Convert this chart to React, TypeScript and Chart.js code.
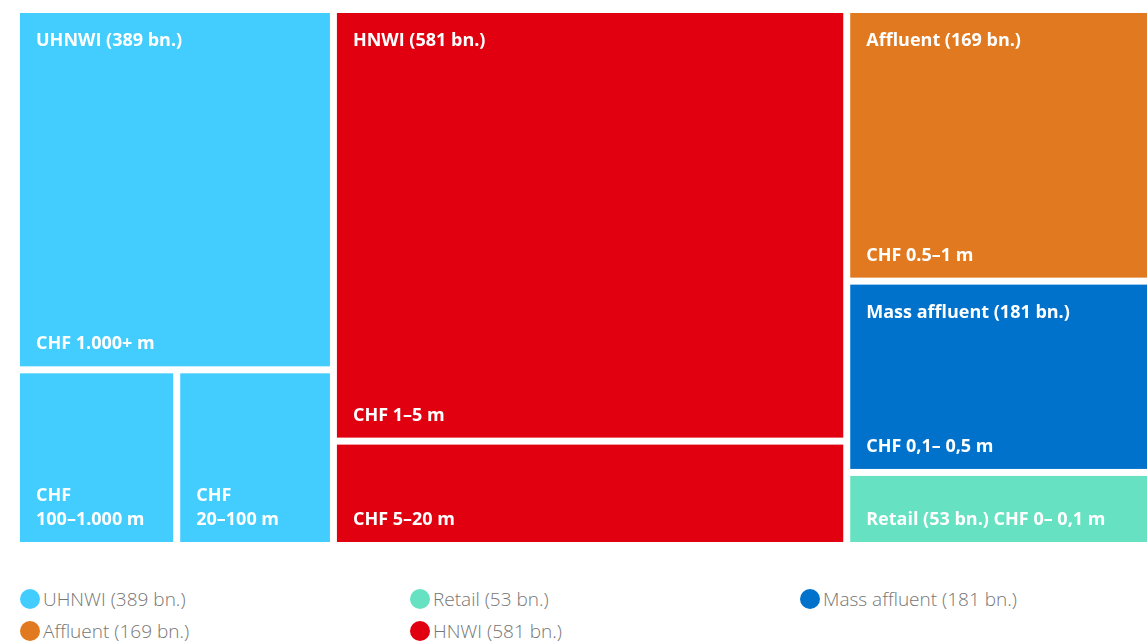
import React, { useEffect, useRef } from "react";
import { Chart, registerables } from "chart.js";

Chart.register(...registerables);

// Groups (segments)
const groupNames = ["UHNWI", "HNWI", "Affluent", "Mass affluent", "Retail"];
const groupTotals = [389, 581, 169, 181, 53];
const groupColors = ["#43cdff", "#e1000f", "#e0791f", "#0072cc", "#66e1c2"];
// Which groups are stacked in which treemap column
const columnGroups = [[0], [1], [2, 3, 4]];

// Leaves (wealth bands)
const leafGroup = [0, 0, 0, 1, 1, 2, 3, 4];
const leafRow = [0, 1, 1, 0, 1, 0, 0, 0];
const leafLabels = [
  "CHF 1.000+ m",
  "CHF\n100–1.000 m",
  "CHF\n20–100 m",
  "CHF 1–5 m",
  "CHF 5–20 m",
  "CHF 0.5–1 m",
  "CHF 0,1– 0,5 m",
  "CHF 0– 0,1 m",
];
// Area weight of each cell
const leafValues = [257, 62, 62, 505, 119, 185, 132, 48];

// Legend order
const legendOrder = [0, 4, 3, 2, 1];

const GAP = 7;
const FONT = "'Open Sans', sans-serif";

type Cell = { i: number; x0: number; x1: number; y0: number; y1: number };

function buildCells(): { cells: Cell[]; total: number } {
  const cells: Cell[] = [];
  let xAcc = 0;
  const total = leafValues.reduce((a, b) => a + b, 0);
  columnGroups.forEach((gs) => {
    const colLeaves = leafValues.map((_, i) => i).filter((i) => gs.includes(leafGroup[i]));
    const colSum = colLeaves.reduce((a, i) => a + leafValues[i], 0);
    let yAcc = 0;
    gs.forEach((g) => {
      const gl = colLeaves.filter((i) => leafGroup[i] === g);
      const rows = Array.from(new Set(gl.map((i) => leafRow[i])));
      rows.forEach((r) => {
        const rl = gl.filter((i) => leafRow[i] === r);
        const rowSum = rl.reduce((a, i) => a + leafValues[i], 0);
        const h = (rowSum / colSum) * 100;
        let xr = xAcc;
        rl.forEach((i) => {
          const w = (leafValues[i] / rowSum) * colSum;
          cells.push({ i, x0: xr, x1: xr + w, y0: yAcc, y1: yAcc + h });
          xr += w;
        });
        yAcc += h;
      });
    });
    xAcc += colSum;
  });
  return { cells, total };
}

const treemapPlugin = {
  id: "treemapCells",
  afterDatasetsDraw(chart: any) {
    const { ctx, scales } = chart;
    const xs = scales.x;
    const ys = scales.y;
    const { cells, total } = buildCells();
    const eps = 1e-6;
    ctx.save();
    const firstOfGroup: Record<number, number> = {};
    cells.forEach((c) => {
      const g = leafGroup[c.i];
      if (firstOfGroup[g] === undefined) firstOfGroup[g] = c.i;
    });
    cells.forEach((c) => {
      const g = leafGroup[c.i];
      const px0 = xs.getPixelForValue(c.x0) + (c.x0 > eps ? GAP / 2 : 0);
      const px1 = xs.getPixelForValue(c.x1) - (c.x1 < total - eps ? GAP / 2 : 0);
      const py0 = ys.getPixelForValue(c.y0) + (c.y0 > eps ? GAP / 2 : 0);
      const py1 = ys.getPixelForValue(c.y1) - (c.y1 < 100 - eps ? GAP / 2 : 0);
      ctx.fillStyle = groupColors[g];
      ctx.fillRect(px0, py0, px1 - px0, py1 - py0);

      ctx.fillStyle = "#ffffff";
      ctx.font = `700 18px ${FONT}`;
      ctx.textBaseline = "middle";
      ctx.textAlign = "left";
      const tx = px0 + 16;
      const isFirst = firstOfGroup[g] === c.i;
      const title = `${groupNames[g]} (${groupTotals[g]} bn.)`;
      let lines = leafLabels[c.i].split("\n");
      const small = py1 - py0 < 90;
      if (isFirst && small) {
        lines = [title + " " + lines.join(" ")];
      } else if (isFirst) {
        ctx.fillText(title, tx, py0 + 28);
      }
      const n = lines.length;
      lines.forEach((ln, k) => {
        ctx.fillText(ln, tx, py1 - 22 - (n - 1 - k) * 24);
      });
    });
    ctx.restore();
  },
};

export default function App() {
  const ref = useRef<HTMLCanvasElement | null>(null);
  useEffect(() => {
    if (!ref.current) return;
    const { total } = buildCells();
    const chart = new Chart(ref.current, {
      type: "scatter",
      data: { datasets: [] },
      options: {
        animation: false,
        responsive: false,
        maintainAspectRatio: false,
        layout: { padding: { left: 20, top: 13, right: 0, bottom: 18 } },
        plugins: { legend: { display: false }, tooltip: { enabled: false } },
        scales: {
          x: { type: "linear", min: 0, max: total, display: false },
          y: { type: "linear", min: 0, max: 100, reverse: true, display: false },
        },
      },
      plugins: [treemapPlugin],
    });
    return () => chart.destroy();
  }, []);

  return (
    <div style={{ position: "absolute", left: 0, top: 0, width: 1147, height: 644, overflow: "hidden", background: "#fff" }}>
      <canvas ref={ref} width={1147} height={560} style={{ position: "absolute", left: 0, top: 0, width: 1147, height: 560 }} />
      <div
        style={{
          position: "absolute",
          left: 20,
          top: 583,
          display: "grid",
          gridTemplateColumns: "390px 390px 390px",
          gridAutoRows: "32px",
          fontFamily: FONT,
          fontWeight: 300,
          fontSize: 19,
          color: "#767676",
        }}
      >
        {legendOrder.map((g) => (
          <div key={g} style={{ display: "flex", alignItems: "center", height: 32 }}>
            <span
              style={{
                display: "inline-block",
                width: 20,
                height: 20,
                borderRadius: 10,
                background: groupColors[g],
                marginRight: 3,
              }}
            />
            <span>{`${groupNames[g]} (${groupTotals[g]} bn.)`}</span>
          </div>
        ))}
      </div>
    </div>
  );
}
